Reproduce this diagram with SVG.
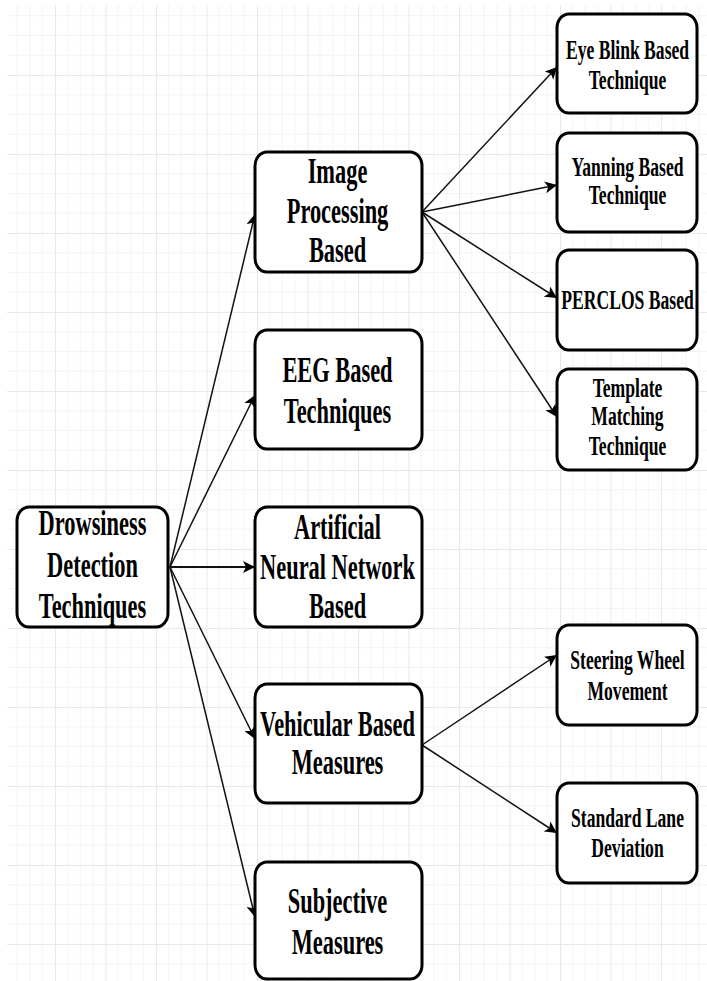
<svg xmlns="http://www.w3.org/2000/svg" width="707" height="981" viewBox="0 0 707 981">
<defs>
<pattern id="grid" patternUnits="userSpaceOnUse" x="4.5" y="-4" width="50.5" height="79">
<path d="M12.625 0V79M25.25 0V79M37.875 0V79M0 19.75H50.5M0 39.5H50.5M0 59.25H50.5" stroke="#f3f3f3" stroke-width="1" fill="none"/>
<path d="M0.5 0V79M0 0.5H50.5" stroke="#e8e8e8" stroke-width="1.2" fill="none"/>
</pattern>
<marker id="arr" markerUnits="userSpaceOnUse" markerWidth="14" markerHeight="12" refX="12" refY="6" orient="auto">
<path d="M0 0L12 6L0 12L3 6Z" fill="#000"/>
</marker>
<style>
.box{fill:#fff;stroke:#000;stroke-width:3}
.big{font-family:"Liberation Serif","Times New Roman",serif;font-weight:bold;font-size:35px;text-anchor:middle;fill:#000}
.small{font-family:"Liberation Serif","Times New Roman",serif;font-weight:bold;font-size:27.5px;text-anchor:middle;fill:#000}
.edge{stroke:#111;stroke-width:1.5;fill:none;marker-end:url(#arr)}
</style>
</defs>
<rect x="0" y="0" width="707" height="981" fill="#fff"/>
<rect x="7" y="5" width="700" height="976" fill="url(#grid)"/>

<g id="connectors">
<line class="edge" x1="170" y1="567" x2="255" y2="214"/>
<line class="edge" x1="170" y1="567" x2="255" y2="395"/>
<line class="edge" x1="170" y1="567" x2="255" y2="567" style="stroke-width:2.2"/>
<line class="edge" x1="170" y1="567" x2="255" y2="739"/>
<line class="edge" x1="170" y1="567" x2="255" y2="917"/>
<line class="edge" x1="422" y1="212" x2="557" y2="67"/>
<line class="edge" x1="422" y1="212" x2="557" y2="185"/>
<line class="edge" x1="422" y1="212" x2="557" y2="298"/>
<line class="edge" x1="422" y1="212" x2="557" y2="417"/>
<line class="edge" x1="422" y1="745" x2="557" y2="655"/>
<line class="edge" x1="422" y1="745" x2="557" y2="833"/>
</g>

<g id="drowsiness">
<rect class="box" x="17" y="507" width="151" height="120" rx="12" ry="14"/>
<g transform="translate(92.5,0) scale(0.64,1)">
<text class="big" x="0" y="535">Drowsiness</text>
<text class="big" x="0" y="577">Detection</text>
<text class="big" x="0" y="618">Techniques</text>
</g>
</g>

<g id="image-processing">
<rect class="box" x="255" y="152" width="167" height="120" rx="12" ry="14"/>
<g transform="translate(337.5,0) scale(0.64,1)">
<text class="big" x="0" y="183">Image</text>
<text class="big" x="0" y="223">Processing</text>
<text class="big" x="0" y="262">Based</text>
</g>
</g>

<g id="eeg">
<rect class="box" x="255" y="330" width="167" height="119" rx="12" ry="14"/>
<g transform="translate(337.5,0) scale(0.64,1)">
<text class="big" x="0" y="382">EEG Based</text>
<text class="big" x="0" y="423">Techniques</text>
</g>
</g>

<g id="ann">
<rect class="box" x="255" y="507" width="167" height="120" rx="12" ry="14"/>
<g transform="translate(337.5,0) scale(0.64,1)">
<text class="big" x="0" y="539">Artificial</text>
<text class="big" x="0" y="579">Neural Network</text>
<text class="big" x="0" y="618">Based</text>
</g>
</g>

<g id="vehicular">
<rect class="box" x="255" y="684" width="167" height="119" rx="12" ry="14"/>
<g transform="translate(337.5,0) scale(0.64,1)">
<text class="big" x="0" y="736">Vehicular Based</text>
<text class="big" x="0" y="774">Measures</text>
</g>
</g>

<g id="subjective">
<rect class="box" x="255" y="862" width="167" height="117" rx="12" ry="14"/>
<g transform="translate(337.5,0) scale(0.64,1)">
<text class="big" x="0" y="913">Subjective</text>
<text class="big" x="0" y="954">Measures</text>
</g>
</g>

<g id="eye-blink">
<rect class="box" x="557" y="14" width="140" height="99" rx="12" ry="14"/>
<g transform="translate(627.5,0) scale(0.64,1)">
<text class="small" x="0" y="59">Eye Blink Based</text>
<text class="small" x="0" y="89">Technique</text>
</g>
</g>

<g id="yanning">
<rect class="box" x="557" y="133" width="140" height="99" rx="12" ry="14"/>
<g transform="translate(627.5,0) scale(0.64,1)">
<text class="small" x="0" y="176">Yanning Based</text>
<text class="small" x="0" y="204">Technique</text>
</g>
</g>

<g id="perclos">
<rect class="box" x="557" y="250" width="140" height="100" rx="12" ry="14"/>
<g transform="translate(627.5,0) scale(0.64,1)">
<text class="small" x="0" y="309">PERCLOS Based</text>
</g>
</g>

<g id="template">
<rect class="box" x="557" y="369" width="140" height="101" rx="12" ry="14"/>
<g transform="translate(627.5,0) scale(0.64,1)">
<text class="small" x="0" y="397">Template</text>
<text class="small" x="0" y="425">Matching</text>
<text class="small" x="0" y="455">Technique</text>
</g>
</g>

<g id="steering">
<rect class="box" x="557" y="625" width="140" height="100" rx="12" ry="14"/>
<g transform="translate(627.5,0) scale(0.64,1)">
<text class="small" x="0" y="669">Steering Wheel</text>
<text class="small" x="0" y="700">Movement</text>
</g>
</g>

<g id="lane">
<rect class="box" x="557" y="783" width="140" height="100" rx="12" ry="14"/>
<g transform="translate(627.5,0) scale(0.64,1)">
<text class="small" x="0" y="827">Standard Lane</text>
<text class="small" x="0" y="857">Deviation</text>
</g>
</g>
</svg>
